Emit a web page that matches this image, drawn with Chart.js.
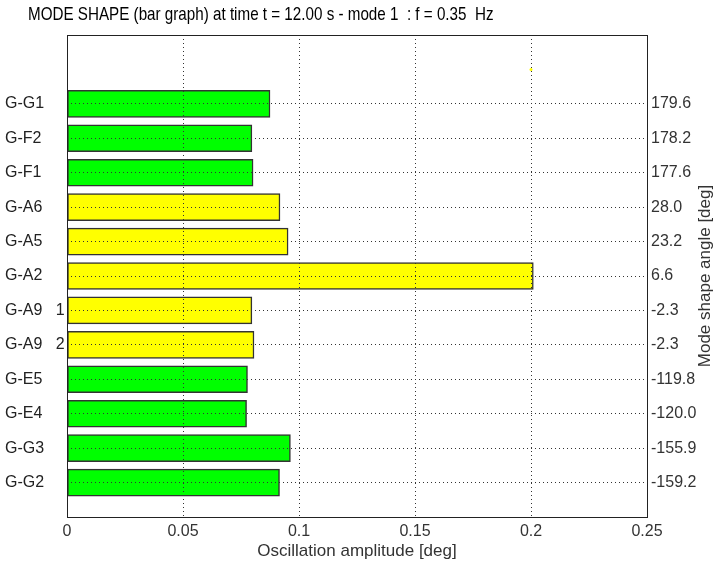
<!DOCTYPE html>
<html>
<head>
<meta charset="utf-8">
<script src="https://cdn.jsdelivr.net/npm/chart.js@4/dist/chart.umd.min.js"></script>
<style>
  html, body { margin: 0; padding: 0; background: #fff; }
  #wrap { width: 715px; height: 563px; }
</style>
</head>
<body>
<div id="wrap"><canvas id="myChart"></canvas></div>
<script>
// rows listed from top to bottom
const names = ['G-G1', 'G-F2', 'G-F1', 'G-A6', 'G-A5', 'G-A2', 'G-A9   1', 'G-A9   2', 'G-E5', 'G-E4', 'G-G3', 'G-G2'];
const amplitude = [0.0875, 0.0797, 0.0802, 0.0918, 0.0953, 0.2010, 0.0797, 0.0806, 0.0778, 0.0774, 0.0963, 0.0916];
const angles = ['179.6', '178.2', '177.6', '28.0', '23.2', '6.6', '-2.3', '-2.3', '-119.8', '-120.0', '-155.9', '-159.2'];
const groups = ['G', 'G', 'G', 'Y', 'Y', 'Y', 'Y', 'Y', 'G', 'G', 'G', 'G'];
const xTickLabels = ['0', '0.05', '0.1', '0.15', '0.2', '0.25'];
// stray yellow marker above the top bar
const markerAmp = [0.2];
const markerRow = [13];

const titleText = 'MODE SHAPE (bar graph) at time t = 12.00 s - mode 1  : f = 0.35  Hz';
const font = "'Liberation Sans', Arial, sans-serif";
const colorOf = { G: '#00ff00', Y: '#ffff00' };
const n = names.length;

const barData = amplitude.map((v, i) => ({ x: v, y: n - i }));
const markerData = markerAmp.map((v, i) => ({ x: v, y: markerRow[i] }));

function rowLabel(list, v) {
  const i = n - v;
  return (Number.isInteger(v) && i >= 0 && i < n) ? list[i] : '';
}

const frame = {
  id: 'frame',
  afterDraw(chart) {
    const a = chart.chartArea, c = chart.ctx;
    c.save();
    c.strokeStyle = '#222';
    c.lineWidth = 1;
    c.strokeRect(a.left + 0.5, a.top + 0.5, a.right - a.left, a.bottom - a.top);
    // title, a bit condensed like the original
    c.save();
    c.translate(28, 15);
    c.scale(0.8, 1);
    c.fillStyle = '#000';
    c.font = '19px ' + font;
    c.textAlign = 'left';
    c.textBaseline = 'middle';
    c.fillText(titleText, 0, 0);
    c.restore();
    // right axis title, reading bottom to top
    c.translate(chart.width - 10, (a.top + a.bottom) / 2);
    c.rotate(-Math.PI / 2);
    c.fillStyle = '#333';
    c.font = '17px ' + font;
    c.textAlign = 'center';
    c.textBaseline = 'middle';
    c.fillText('Mode shape angle [deg]', 0, 0);
    c.restore();
  }
};

const dotted = (ctx) => {
  const v = ctx.tick ? ctx.tick.value : 0;
  return ctx.scale.axis === 'x'
    ? (v > 0.001 && v < 0.249 ? '#333' : 'rgba(0,0,0,0)')
    : (v >= 1 && v <= n ? '#333' : 'rgba(0,0,0,0)');
};

new Chart('myChart', {
  type: 'bar',
  data: {
    datasets: [{
      data: barData,
      backgroundColor: groups.map(g => colorOf[g]),
      borderColor: '#333',
      borderWidth: 1.5,
      borderSkipped: false,
      barThickness: 27
    }, {
      type: 'scatter',
      data: markerData,
      pointRadius: 1.5,
      pointBackgroundColor: '#ffff00',
      pointBorderWidth: 0
    }]
  },
  options: {
    indexAxis: 'y',
    responsive: true,
    maintainAspectRatio: false,
    animation: false,
    layout: { padding: { left: 5, right: 0, top: 35, bottom: 0 } },
    plugins: {
      legend: { display: false },
      tooltip: { enabled: false },
      title: { display: false }
    },
    scales: {
      x: {
        type: 'linear',
        min: 0, max: 0.25,
        ticks: {
          stepSize: 0.05,
          padding: 5,
          color: '#333',
          font: { family: font, size: 16 },
          callback: (v, i) => xTickLabels[i]
        },
        grid: { color: dotted, drawTicks: false, z: 1 },
        border: { display: false, dash: [1, 3] },
        title: {
          display: true,
          text: 'Oscillation amplitude [deg]',
          color: '#333',
          font: { family: font, size: 17 },
          padding: { top: 0, bottom: 1 }
        },
        afterFit: (s) => { s.height = 46; }
      },
      y: {
        type: 'linear',
        position: 'left',
        min: 0, max: 14,
        offset: false,
        ticks: {
          stepSize: 1,
          autoSkip: false,
          crossAlign: 'far',
          color: '#222',
          font: { family: font, size: 16 },
          callback: (v) => rowLabel(names, v)
        },
        grid: { display: false, offset: false },
        border: { display: false },
        afterFit: (s) => { s.width = 62; }
      },
      y2: {
        type: 'linear',
        position: 'right',
        min: 0, max: 14,
        offset: false,
        ticks: {
          stepSize: 1,
          autoSkip: false,
          padding: 4,
          color: '#333',
          font: { family: font, size: 16 },
          callback: (v) => rowLabel(angles, v)
        },
        grid: { color: dotted, drawTicks: false, offset: false, z: 1 },
        border: { display: false, dash: [1, 3] },
        afterFit: (s) => { s.width = 68; }
      }
    }
  },
  plugins: [frame]
});
</script>
</body>
</html>
